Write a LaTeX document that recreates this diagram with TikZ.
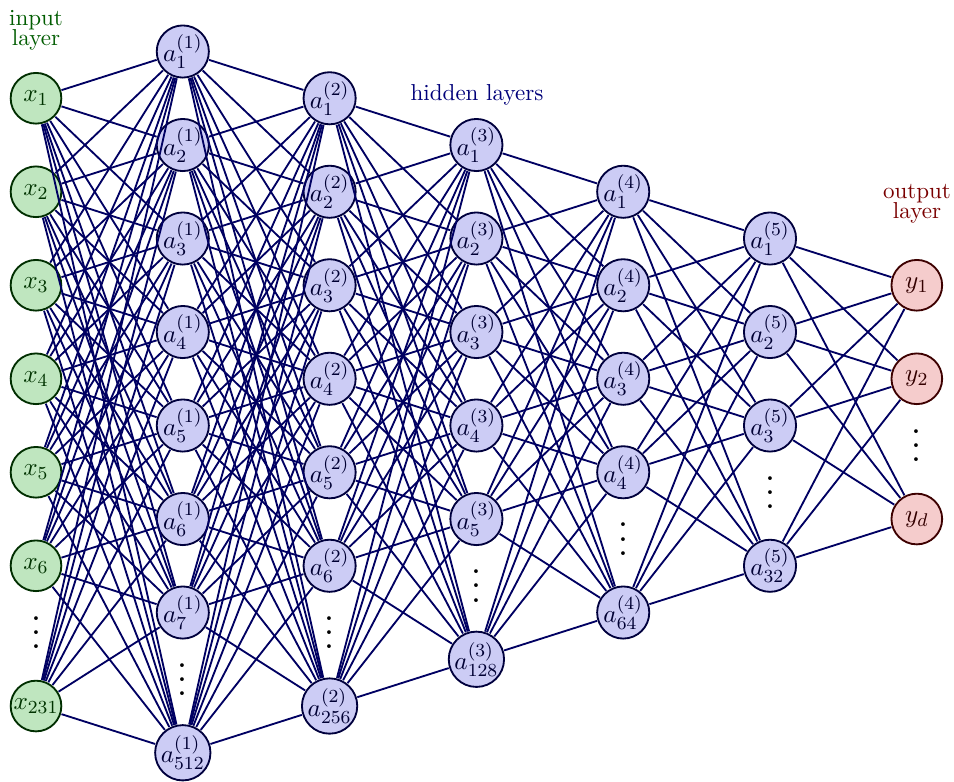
\documentclass[tikz,border=0pt]{standalone}
\colorlet{myred}{red!80!black}
\colorlet{myblue}{blue!80!black}
\colorlet{mygreen}{green!60!black}
\colorlet{mydarkblue}{myblue!48!black}
\begin{document}
\begin{tikzpicture}[x=0.434pt,y=-0.434pt,
  neuron/.style={thick,circle,minimum size=22pt,inner sep=0pt,outer sep=0.6pt,
    font=\fontsize{11}{13}\selectfont},
  nodein/.style={neuron,text=green!20!black,draw=mygreen!30!black,fill=mygreen!25},
  nodehid/.style={neuron,text=blue!20!black,draw=myblue!30!black,fill=myblue!20},
  nodeout/.style={neuron,text=red!20!black,draw=myred!30!black,fill=myred!20},
  link/.style={thick,mydarkblue},
  ellip/.style={inner sep=0pt},
  caption/.style={align=center,inner sep=0pt}]
% canvas
\fill[white] (0,0) rectangle (954,781);

% input layer
\foreach \i in {1,...,6}
  \node[nodein] (n0-\i) at (36,{98.25+(\i-1)*93.5}) {$x_{\i}$};
\node[nodein] (n0-7) at (36,{98.25+6.5*93.5}) {$x_{231}$};
\node[ellip] (d0) at (36,{98.25+5*93.5+67-10.7}) {\scalebox{1.55}{$\vdots$}};

% hidden layers
\foreach \l/\n/\last/\yt in {1/7/512/51.5,2/6/256/98.25,3/5/128/145,4/4/64/191.75,5/3/32/238.5}{
  \pgfmathsetmacro\xx{36+146.8*\l}
  \foreach \i in {1,...,\n}
    \node[nodehid] (n\l-\i) at (\xx,{\yt+(\i-1)*93.5}) {$a_{\i}^{(\l)}$};
  \pgfmathtruncatemacro\m{\n+1}
  \node[nodehid] (n\l-\m) at (\xx,{\yt+(\n+0.5)*93.5}) {$a_{\last}^{(\l)}$};
  \node[ellip] (d\l) at (\xx,{\yt+(\n-1)*93.5+67-10.7}) {\scalebox{1.55}{$\vdots$}};
}

% output layer
\node[nodeout] (n6-1) at (916.8,285.25) {$y_1$};
\node[nodeout] (n6-2) at (916.8,{285.25+93.5}) {$y_2$};
\node[nodeout] (n6-3) at (916.8,{285.25+2.5*93.5}) {$y_d$};
\node[ellip] (d6) at (916.8,{285.25+93.5+67-10.7}) {\scalebox{1.55}{$\vdots$}};

% fully connected links between neighbouring layers
\foreach \l/\a/\b in {0/7/8,1/8/7,2/7/6,3/6/5,4/5/4,5/4/3}{
  \pgfmathtruncatemacro\k{\l+1}
  \foreach \i in {1,...,\a}
    \foreach \j in {1,...,\b}
      \draw[link] (n\l-\i) -- (n\k-\j);
}

% layer captions
\node[caption,text=mygreen!60!black] (capin) at (36,30) {input\\[-3.3pt]layer};
\node[caption,text=myblue!60!black] (caphid) at (477,95) {hidden layers};
\node[caption,text=myred!60!black] (capout) at (917,204) {output\\[-3.3pt]layer};
\end{tikzpicture}
\end{document}
